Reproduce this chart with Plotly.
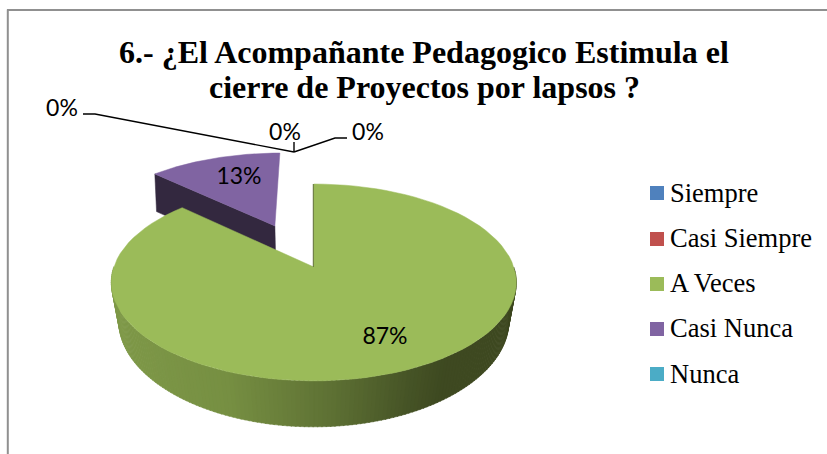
import math
import plotly.graph_objects as go

# --- data ---
categories = ["Siempre", "Casi Siempre", "A Veces", "Casi Nunca", "Nunca"]
values = [0, 0, 87, 13, 0]
colors = ["#4F81BD", "#C0504D", "#9BBB59", "#8064A2", "#4BACC6"]
side_dark = "#33283F"
title_lines = ["6.- ¿El Acompañante Pedagogico Estimula el", "cierre de Proyectos por lapsos ?"]

# --- projection of the tilted pie onto the page (pixel-valued axes) ---
APEX_X, APEX_Y = 313.8, 267.0
SX, P, R = 200.0, 96.0, 0.157
EXPLODE = {"Casi Nunca": 0.5}
EXPLODE_DU = -0.01
BOTTOM_K, BOTTOM_C = 1.04, -41.4


def project(u, v, bottom=False):
    w = 1 + R * v
    X, Y = SX * u / w, P * v / w
    if bottom:
        # the lower face narrows towards the viewer
        X, Y = (0.966 + 0.00025 * Y) * X, BOTTOM_K * Y + BOTTOM_C
    return APEX_X + X, APEX_Y - Y


def wedge(start, end, ex, bottom=False, n=90):
    mid = math.radians((start + end) / 2)
    ou, ov = ex * math.sin(mid) + (EXPLODE_DU if ex else 0), ex * math.cos(mid)
    pts = [project(ou, ov, bottom)]
    for i in range(n + 1):
        a = math.radians(start + (end - start) * i / n)
        pts.append(project(ou + math.sin(a), ov + math.cos(a), bottom))
    pts.append(pts[0])
    return pts


def shade(x):
    stops = [(117, (126, 152, 72)), (225, (118, 143, 66)), (330, (94, 113, 52)),
             (410, (70, 84, 38)), (445, (62, 73, 33)), (520, (62, 73, 33))]
    for (x0, c0), (x1, c1) in zip(stops, stops[1:]):
        if x <= x1:
            t = max(0, (x - x0) / (x1 - x0))
            return "rgb(%d,%d,%d)" % tuple(round(a + (b - a) * t) for a, b in zip(c0, c1))
    return "rgb(62,73,33)"


def poly(pts, color):
    return go.Scatter(x=[p[0] for p in pts], y=[p[1] for p in pts], mode="lines", fill="toself",
                      fillcolor=color, line=dict(color=color, width=0.5), hoverinfo="skip",
                      showlegend=False)


total = sum(values)
fig = go.Figure()

# cumulative angles, clockwise from 12 o'clock
spans = {}
acc = 0.0
for name, val in zip(categories, values):
    spans[name] = (acc, acc + val / total * 360)
    acc += val / total * 360

# purple: dark cut face and top
ps, pe = spans["Casi Nunca"]
ptop = wedge(ps, pe, EXPLODE["Casi Nunca"])
pbot = wedge(ps, pe, EXPLODE["Casi Nunca"], bottom=True)
fig.add_trace(poly([ptop[0], ptop[1], pbot[1], pbot[0], ptop[0]], side_dark))

# green: rim as narrow vertical strips
gs, ge = spans["A Veces"]
N = 160
for i in range(N):
    a0 = 90 + 180 * i / N
    a1 = 90 + 180 * (i + 1) / N + 0.3
    quad = []
    for a, bottom in ((a0, False), (a1, False), (a1, True), (a0, True)):
        r = math.radians(a)
        quad.append(project(math.sin(r), math.cos(r), bottom))
    quad.append(quad[0])
    fig.add_trace(poly(quad, shade((quad[0][0] + quad[1][0]) / 2)))

fig.add_trace(poly(ptop, colors[3]))
fig.add_trace(poly(wedge(gs, ge, 0), colors[2]))

# thin right cut edge of the green slice
edge = [project(0, 0), project(0, 1)]
fig.add_trace(go.Scatter(x=[p[0] - 0.5 for p in edge], y=[p[1] for p in edge], mode="lines",
                         line=dict(color="#5A6B30", width=1), hoverinfo="skip", showlegend=False))

# data labels
LABEL_POS = {"Siempre": (62, 110), "Casi Siempre": (285, 134), "A Veces": (385, 338),
             "Casi Nunca": (239, 178), "Nunca": (368, 134)}
fig.add_trace(go.Scatter(
    x=[LABEL_POS[c][0] for c in categories], y=[LABEL_POS[c][1] for c in categories],
    mode="text", text=[f"{v}%" for v in values], textposition="middle center",
    textfont=dict(family="Lato", size=23, color="#000000"), hoverinfo="skip", showlegend=False))

# leader lines for the zero slices
LEADERS = [[(83, 114), (95, 114), (294, 152)], [(294, 142), (294, 152)],
           [(294, 152), (335, 138), (347, 138)]]
for ld in LEADERS:
    fig.add_trace(go.Scatter(x=[p[0] for p in ld], y=[p[1] for p in ld], mode="lines",
                             line=dict(color="#000000", width=1.4), hoverinfo="skip", showlegend=False))

# legend
LEGEND_MARK_Y = [193, 239, 284, 329, 374]
LEGEND_TEXT_Y = [195, 240.5, 285.5, 330.5, 376]
fig.add_trace(go.Scatter(x=[657] * 5, y=LEGEND_MARK_Y, mode="markers",
                         marker=dict(symbol="square", size=14, color=colors, line=dict(width=0)),
                         hoverinfo="skip", showlegend=False))
fig.add_trace(go.Scatter(x=[670] * 5, y=LEGEND_TEXT_Y, mode="text", text=categories, textposition="middle right",
                         textfont=dict(family="Liberation Serif", size=26.5, color="#000000"),
                         hoverinfo="skip", showlegend=False))

# title
fig.add_annotation(x=424, y=51.5, xref="x", yref="y", showarrow=False, text="<b>" + title_lines[0] + "</b>",
                   font=dict(family="Liberation Serif", size=32, color="#000000"))
fig.add_annotation(x=424, y=87, xref="x", yref="y", showarrow=False, text="<b>" + title_lines[1] + "</b>",
                   font=dict(family="Liberation Serif", size=32, color="#000000"))

fig.update_layout(
    width=827, height=454, margin=dict(l=0, r=0, t=0, b=0), showlegend=False,
    paper_bgcolor="#FFFFFF", plot_bgcolor="#FFFFFF",
    xaxis=dict(range=[0, 827], visible=False, fixedrange=True),
    yaxis=dict(range=[454, 0], visible=False, fixedrange=True),
    shapes=[
        dict(type="line", xref="x", yref="y", x0=7.8, x1=7.8, y0=9.5, y1=454, line=dict(color="#909090", width=2)),
        dict(type="line", xref="x", yref="y", x0=7, x1=827, y0=10, y1=10, line=dict(color="#909090", width=2)),
    ],
)
fig.write_html("out.html", config={"displayModeBar": False},
               post_script="document.body.style.margin='0';document.body.style.overflow='hidden';")
